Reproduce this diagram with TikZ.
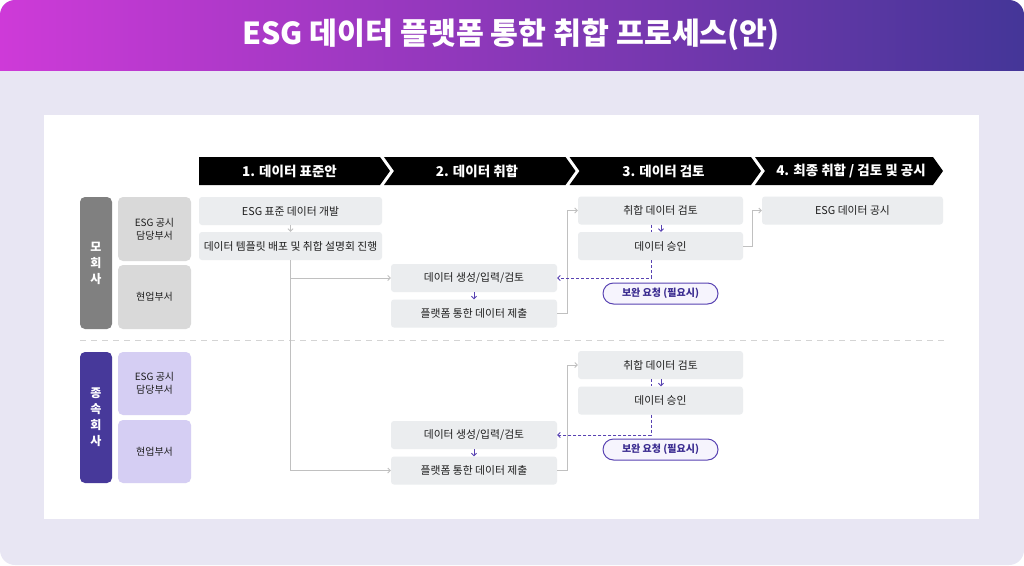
\documentclass[tikz,border=0pt]{standalone}
\usepackage{fontspec}
\setmainfont{Noto Sans CJK KR}
\usetikzlibrary{arrows.meta,calc}

\definecolor{gradL}{RGB}{206,58,216}
\definecolor{gradR}{RGB}{68,54,152}
\definecolor{lav}{RGB}{232,230,243}
\definecolor{procg}{RGB}{235,237,239}
\definecolor{mgray}{RGB}{128,128,128}
\definecolor{lgray}{RGB}{217,217,217}
\definecolor{jpur}{RGB}{71,57,154}
\definecolor{jlav}{RGB}{213,206,243}
\definecolor{conng}{RGB}{192,192,192}
\definecolor{dpur}{RGB}{88,66,178}
\definecolor{pillfill}{RGB}{246,244,253}
\definecolor{pilltext}{RGB}{60,45,145}
\definecolor{sepc}{RGB}{212,212,212}
\definecolor{txt}{RGB}{30,30,30}

\begin{document}
\begin{tikzpicture}[x=1pt,y=-1pt,
  proc/.style={fill=procg, rounded corners=3pt, inner sep=0pt, text=txt,
    font=\fontsize{10.8}{12}\selectfont, align=center},
  chevshape/.style={fill=black},
  chevtext/.style={text=white, inner sep=0pt, font=\fontsize{13.5}{16}\bfseries\selectfont},
  sidebox/.style={rounded corners=5pt, inner sep=0pt, align=center},
  dept/.style={sidebox, text=txt, font=\fontsize{10}{13}\selectfont},
  corp/.style={sidebox, text=white, font=\fontsize{12}{16}\bfseries\selectfont},
  pill/.style={draw=dpur, line width=1pt, fill=pillfill, rounded corners=10.5pt,
    minimum width=115pt, minimum height=21pt, inner sep=0pt, text=pilltext,
    font=\fontsize{10}{11}\bfseries\selectfont},
  tipb/.tip={Straight Barb[length=2.5pt,width=5pt]},
  garrow/.style={draw=conng, line width=0.8pt, -tipb},
  parrow/.style={draw=dpur, line width=0.9pt, -tipb},
  pdash/.style={draw=dpur, line width=0.9pt, dash pattern=on 3pt off 2pt},
]
\useasboundingbox (0,0) rectangle (1024,565);
% page background
\fill[white] (0,0) rectangle (1024,565);
\fill[lav, rounded corners=15pt] (0,0) rectangle (1024,565);
\begin{scope}
  \clip[rounded corners=15pt] (0,0) rectangle (1024,565);
  \shade[left color=gradL, right color=gradR] (0,0) rectangle (1024,70);
\end{scope}
\node[text=white, font=\fontsize{30.3}{34}\bfseries\selectfont] (title) at (511,35)
  {ESG 데이터 플랫폼 통한 취합 프로세스(안)};
% white panel
\fill[white] (44,115) rectangle (979,519);

% stage chevrons
\fill[chevshape] (199,157) -- (380,157) -- (390,171) -- (380,185) -- (199,185) -- cycle;
\fill[chevshape] (384,157) -- (565.5,157) -- (575.5,171) -- (565.5,185) -- (384,185) -- (394,171) -- cycle;
\fill[chevshape] (569.5,157) -- (751,157) -- (761,171) -- (751,185) -- (569.5,185) -- (579.5,171) -- cycle;
\fill[chevshape] (755,157) -- (933,157) -- (943,171) -- (933,185) -- (755,185) -- (765,171) -- cycle;
\node[chevtext] (c1) at (289.5,171) {1. 데이터 표준안};
\node[chevtext] (c2) at (477,171) {2. 데이터 취합};
\node[chevtext] (c3) at (663.5,171) {3. 데이터 검토};
\node[chevtext] (c4) at (851,171)   {4. 최종 취합 / 검토 및 공시};

% left labels
\node[corp, fill=mgray, minimum width=32pt, minimum height=132pt] (m0) at (96,263) {모\\회\\사};
\node[dept, fill=lgray, minimum width=73pt, minimum height=64pt] (m1) at (154.5,229) {ESG 공시\\담당부서};
\node[dept, fill=lgray, minimum width=73pt, minimum height=64pt] (m2) at (154.5,297) {현업부서};
\node[corp, fill=jpur, minimum width=32pt, minimum height=131pt] (j0) at (96,417.5) {종\\속\\회\\사};
\node[dept, fill=jlav, minimum width=73pt, minimum height=63pt] (j1) at (154.5,383.5) {ESG 공시\\담당부서};
\node[dept, fill=jlav, minimum width=73pt, minimum height=63pt] (j2) at (154.5,451.5) {현업부서};

% separator
\draw[sepc, line width=1pt, dash pattern=on 6pt off 5pt] (80,340) -- (944,340);

% stage 1
\node[proc, minimum width=183pt, minimum height=28pt] (s1a) at (290.5,211) {ESG 표준 데이터 개발};
\node[proc, minimum width=183pt, minimum height=28pt] (s1b) at (290.5,246) {데이터 템플릿 배포 및 취합 설명회 진행};

% parent stage 2-4
\node[proc, minimum width=166pt, minimum height=28pt] (p2a) at (474,278) {데이터 생성/입력/검토};
\node[proc, minimum width=166pt, minimum height=28pt] (p2b) at (474,313.5) {플랫폼 통한 데이터 제출};
\node[proc, minimum width=165pt, minimum height=28pt] (p3a) at (660.5,210.5) {취합 데이터 검토};
\node[proc, minimum width=165pt, minimum height=28pt] (p3b) at (660.5,246) {데이터 승인};
\node[proc, minimum width=181pt, minimum height=28pt] (p4) at (852.5,210.5) {ESG 데이터 공시};
\node[pill] (pill1) at (660.5,293.5) {보완 요청 (필요시)};

% subsidiary stage 2-3
\node[proc, minimum width=166pt, minimum height=28pt] (q2a) at (474,435) {데이터 생성/입력/검토};
\node[proc, minimum width=166pt, minimum height=28pt] (q2b) at (474,470.5) {플랫폼 통한 데이터 제출};
\node[proc, minimum width=165pt, minimum height=28pt] (q3a) at (660.5,365) {취합 데이터 검토};
\node[proc, minimum width=165pt, minimum height=28pt] (q3b) at (660.5,400.5) {데이터 승인};
\node[pill] (pill2) at (660.5,449.5) {보완 요청 (필요시)};

% connectors stage 1
\draw[garrow] (s1a.south) -- (s1b.north);
\draw[garrow] (s1b.south) |- (q2b.west);
\draw[garrow] (s1b.south |- p2a.west) -- (p2a.west);

% parent connectors
\draw[parrow] (p2a.south) -- (p2b.north);
\draw[garrow] (p2b.east) -- ++(10.5,0) |- (p3a.west);
\draw[parrow] ([xshift=0.5pt]p3a.south) -- ([xshift=0.5pt]p3b.north);
\draw[pdash] ([xshift=-9.5pt]p3a.south) -- ([xshift=-9.5pt]p3b.north);
\draw[pdash, -tipb] ([xshift=-9.5pt]p3b.south) |- (p2a.east);
\draw[garrow] (p3b.east) -- ++(9.5,0) |- (p4.west);

% subsidiary connectors
\draw[parrow] (q2a.south) -- (q2b.north);
\draw[garrow] (q2b.east) -- ++(10.5,0) |- (q3a.west);
\draw[parrow] ([xshift=0.5pt]q3a.south) -- ([xshift=0.5pt]q3b.north);
\draw[pdash] ([xshift=-9.5pt]q3a.south) -- ([xshift=-9.5pt]q3b.north);
\draw[pdash, -tipb] ([xshift=-9.5pt]q3b.south) |- (q2a.east);
\end{tikzpicture}
\end{document}
